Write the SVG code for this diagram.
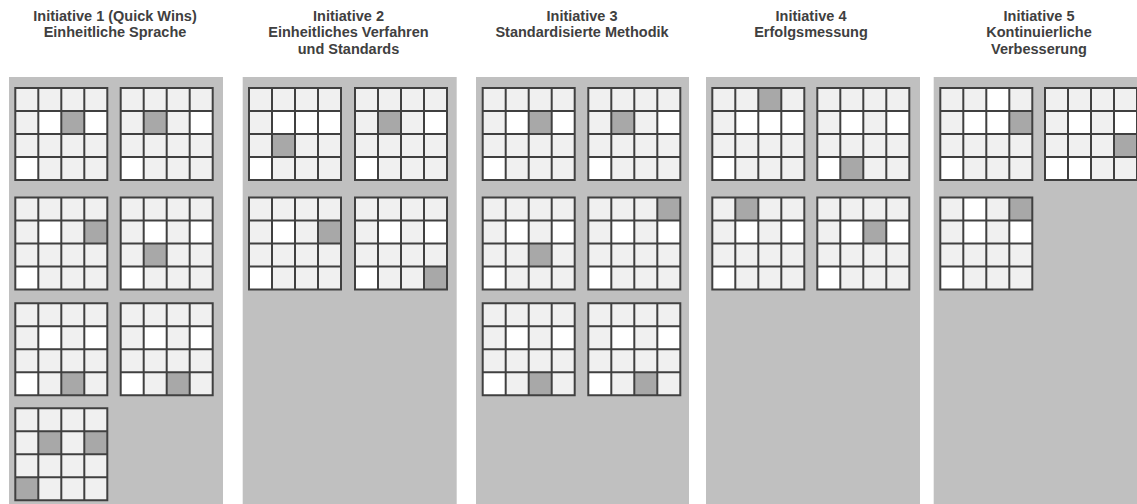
<svg xmlns="http://www.w3.org/2000/svg" xmlns:xlink="http://www.w3.org/1999/xlink" width="1137" height="504" viewBox="0 0 1137 504">
<style>
.hdr{font-family:"Liberation Sans",Arial,Helvetica,sans-serif;font-size:14.5px;font-weight:bold;fill:#404040;text-anchor:middle}
.panel{fill:#c0c0c0}
.bg{fill:#f0f0f0}
.w{fill:#ffffff}
.d{fill:#a8a8a8}
.gl{fill:none;stroke:#404040;stroke-width:2}
</style>
<defs>
<path id="lines" class="gl" d="M0 0H92V92H0Z M23 0V92 M46 0V92 M69 0V92 M0 23H92 M0 46H92 M0 69H92"/>
<rect id="bg" class="bg" width="92" height="92"/>
</defs>
<rect width="1137" height="504" fill="#ffffff"/>

<!-- Panel 1 -->
<g id="initiative1">
<rect class="panel" x="9" y="77" width="214" height="427"/>
<text class="hdr" x="115" y="20.5">Initiative 1 (Quick Wins)</text>
<text class="hdr" x="115" y="37">Einheitliche Sprache</text>
<g id="p1g1" transform="translate(15.3,88)"><use xlink:href="#bg"/><rect class="w" x="23" y="23" width="23" height="23"/><rect class="w" x="69" y="23" width="23" height="23"/><rect class="w" x="0" y="69" width="23" height="23"/><rect class="d" x="46" y="23" width="23" height="23"/><use xlink:href="#lines"/></g>
<g id="p1g2" transform="translate(120.7,88)"><use xlink:href="#bg"/><rect class="w" x="69" y="23" width="23" height="23"/><rect class="w" x="0" y="69" width="23" height="23"/><rect class="d" x="23" y="23" width="23" height="23"/><use xlink:href="#lines"/></g>
<g id="p1g3" transform="translate(15.3,197.5)"><use xlink:href="#bg"/><rect class="w" x="23" y="23" width="23" height="23"/><rect class="w" x="0" y="69" width="23" height="23"/><rect class="d" x="69" y="23" width="23" height="23"/><use xlink:href="#lines"/></g>
<g id="p1g4" transform="translate(120.7,197.5)"><use xlink:href="#bg"/><rect class="w" x="23" y="23" width="23" height="23"/><rect class="w" x="69" y="23" width="23" height="23"/><rect class="w" x="0" y="69" width="23" height="23"/><rect class="d" x="23" y="46" width="23" height="23"/><use xlink:href="#lines"/></g>
<g id="p1g5" transform="translate(15.3,303.3)"><use xlink:href="#bg"/><rect class="w" x="23" y="23" width="23" height="23"/><rect class="w" x="69" y="23" width="23" height="23"/><rect class="w" x="0" y="69" width="23" height="23"/><rect class="d" x="46" y="69" width="23" height="23"/><use xlink:href="#lines"/></g>
<g id="p1g6" transform="translate(120.7,303.3)"><use xlink:href="#bg"/><rect class="w" x="23" y="23" width="23" height="23"/><rect class="w" x="69" y="23" width="23" height="23"/><rect class="w" x="0" y="69" width="23" height="23"/><rect class="d" x="46" y="69" width="23" height="23"/><use xlink:href="#lines"/></g>
<g id="p1g7" transform="translate(15.3,408.3)"><use xlink:href="#bg"/><rect class="d" x="23" y="23" width="23" height="23"/><rect class="d" x="69" y="23" width="23" height="23"/><rect class="d" x="0" y="69" width="23" height="23"/><use xlink:href="#lines"/></g>
</g>

<!-- Panel 2 -->
<g id="initiative2">
<rect class="panel" x="242.7" y="77" width="214" height="427"/>
<text class="hdr" x="348.5" y="20.5">Initiative 2</text>
<text class="hdr" x="348.5" y="37">Einheitliches Verfahren</text>
<text class="hdr" x="348.5" y="53.5">und Standards</text>
<g id="p2g1" transform="translate(249,88)"><use xlink:href="#bg"/><rect class="w" x="23" y="23" width="23" height="23"/><rect class="w" x="46" y="23" width="23" height="23"/><rect class="w" x="69" y="23" width="23" height="23"/><rect class="w" x="0" y="69" width="23" height="23"/><rect class="d" x="23" y="46" width="23" height="23"/><use xlink:href="#lines"/></g>
<g id="p2g2" transform="translate(355,88)"><use xlink:href="#bg"/><rect class="w" x="69" y="23" width="23" height="23"/><rect class="w" x="0" y="69" width="23" height="23"/><rect class="d" x="23" y="23" width="23" height="23"/><use xlink:href="#lines"/></g>
<g id="p2g3" transform="translate(249,197.5)"><use xlink:href="#bg"/><rect class="w" x="23" y="23" width="23" height="23"/><rect class="w" x="0" y="69" width="23" height="23"/><rect class="d" x="69" y="23" width="23" height="23"/><use xlink:href="#lines"/></g>
<g id="p2g4" transform="translate(355,197.5)"><use xlink:href="#bg"/><rect class="w" x="23" y="23" width="23" height="23"/><rect class="w" x="69" y="23" width="23" height="23"/><rect class="w" x="0" y="69" width="23" height="23"/><rect class="d" x="69" y="69" width="23" height="23"/><use xlink:href="#lines"/></g>
</g>

<!-- Panel 3 -->
<g id="initiative3">
<rect class="panel" x="476" y="77" width="213" height="427"/>
<text class="hdr" x="582" y="20.5">Initiative 3</text>
<text class="hdr" x="582" y="37">Standardisierte Methodik</text>
<g id="p3g1" transform="translate(482.7,88)"><use xlink:href="#bg"/><rect class="w" x="23" y="23" width="23" height="23"/><rect class="w" x="69" y="23" width="23" height="23"/><rect class="w" x="0" y="69" width="23" height="23"/><rect class="d" x="46" y="23" width="23" height="23"/><use xlink:href="#lines"/></g>
<g id="p3g2" transform="translate(588.3,88)"><use xlink:href="#bg"/><rect class="w" x="69" y="23" width="23" height="23"/><rect class="w" x="0" y="69" width="23" height="23"/><rect class="d" x="23" y="23" width="23" height="23"/><use xlink:href="#lines"/></g>
<g id="p3g3" transform="translate(482.7,197.5)"><use xlink:href="#bg"/><rect class="w" x="23" y="23" width="23" height="23"/><rect class="w" x="69" y="23" width="23" height="23"/><rect class="w" x="0" y="69" width="23" height="23"/><rect class="d" x="46" y="46" width="23" height="23"/><use xlink:href="#lines"/></g>
<g id="p3g4" transform="translate(588.3,197.5)"><use xlink:href="#bg"/><rect class="w" x="23" y="23" width="23" height="23"/><rect class="w" x="69" y="23" width="23" height="23"/><rect class="w" x="0" y="69" width="23" height="23"/><rect class="d" x="69" y="0" width="23" height="23"/><use xlink:href="#lines"/></g>
<g id="p3g5" transform="translate(482.7,303.3)"><use xlink:href="#bg"/><rect class="w" x="23" y="23" width="23" height="23"/><rect class="w" x="69" y="23" width="23" height="23"/><rect class="w" x="0" y="69" width="23" height="23"/><rect class="d" x="46" y="69" width="23" height="23"/><use xlink:href="#lines"/></g>
<g id="p3g6" transform="translate(588.3,303.3)"><use xlink:href="#bg"/><rect class="w" x="23" y="23" width="23" height="23"/><rect class="w" x="69" y="23" width="23" height="23"/><rect class="w" x="0" y="69" width="23" height="23"/><rect class="d" x="46" y="69" width="23" height="23"/><use xlink:href="#lines"/></g>
</g>

<!-- Panel 4 -->
<g id="initiative4">
<rect class="panel" x="706" y="77" width="214" height="427"/>
<text class="hdr" x="811" y="20.5">Initiative 4</text>
<text class="hdr" x="811" y="37">Erfolgsmessung</text>
<g id="p4g1" transform="translate(712.3,88)"><use xlink:href="#bg"/><rect class="w" x="23" y="23" width="23" height="23"/><rect class="w" x="46" y="23" width="23" height="23"/><rect class="w" x="69" y="23" width="23" height="23"/><rect class="w" x="0" y="69" width="23" height="23"/><rect class="d" x="46" y="0" width="23" height="23"/><use xlink:href="#lines"/></g>
<g id="p4g2" transform="translate(817.3,88)"><use xlink:href="#bg"/><rect class="w" x="23" y="23" width="23" height="23"/><rect class="w" x="69" y="23" width="23" height="23"/><rect class="w" x="0" y="69" width="23" height="23"/><rect class="d" x="23" y="69" width="23" height="23"/><use xlink:href="#lines"/></g>
<g id="p4g3" transform="translate(712.3,197.5)"><use xlink:href="#bg"/><rect class="w" x="23" y="23" width="23" height="23"/><rect class="w" x="69" y="23" width="23" height="23"/><rect class="w" x="0" y="69" width="23" height="23"/><rect class="d" x="23" y="0" width="23" height="23"/><use xlink:href="#lines"/></g>
<g id="p4g4" transform="translate(817.3,197.5)"><use xlink:href="#bg"/><rect class="w" x="23" y="23" width="23" height="23"/><rect class="w" x="69" y="23" width="23" height="23"/><rect class="w" x="0" y="69" width="23" height="23"/><rect class="d" x="46" y="23" width="23" height="23"/><use xlink:href="#lines"/></g>
</g>

<!-- Panel 5 -->
<g id="initiative5">
<rect class="panel" x="933.7" y="77" width="203.3" height="427"/>
<text class="hdr" x="1039" y="20.5">Initiative 5</text>
<text class="hdr" x="1039" y="37">Kontinuierliche</text>
<text class="hdr" x="1039" y="53.5">Verbesserung</text>
<g id="p5g1" transform="translate(940.3,88)"><use xlink:href="#bg"/><rect class="w" x="46" y="0" width="23" height="23"/><rect class="w" x="23" y="23" width="23" height="23"/><rect class="w" x="46" y="23" width="23" height="23"/><rect class="w" x="0" y="69" width="23" height="23"/><rect class="d" x="69" y="23" width="23" height="23"/><use xlink:href="#lines"/></g>
<g id="p5g2" transform="translate(1045,88)"><use xlink:href="#bg"/><rect class="w" x="23" y="23" width="23" height="23"/><rect class="w" x="69" y="23" width="23" height="23"/><rect class="w" x="0" y="69" width="23" height="23"/><rect class="w" x="23" y="69" width="23" height="23"/><rect class="d" x="69" y="46" width="23" height="23"/><use xlink:href="#lines"/></g>
<g id="p5g3" transform="translate(940.3,197.5)"><use xlink:href="#bg"/><rect class="w" x="23" y="0" width="23" height="23"/><rect class="w" x="23" y="23" width="23" height="23"/><rect class="w" x="69" y="23" width="23" height="23"/><rect class="w" x="0" y="69" width="23" height="23"/><rect class="d" x="69" y="0" width="23" height="23"/><use xlink:href="#lines"/></g>
</g>

<g id="connectors"/>
</svg>
